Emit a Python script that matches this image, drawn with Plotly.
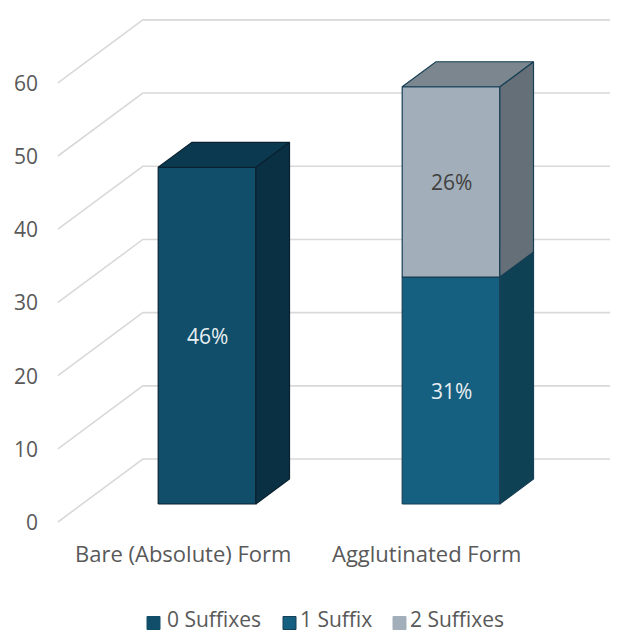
import plotly.graph_objects as go

# ---- data ----
categories = ["Bare (Absolute) Form", "Agglutinated Form"]
series_names = ["0 Suffixes", "1 Suffix", "2 Suffixes"]
suffix0 = [46, None]
suffix1 = [None, 31]
suffix2 = [None, 26]
labels0 = ["46%", None]
labels1 = [None, "31%"]
labels2 = [None, "26%"]
y_ticks = [0, 10, 20, 30, 40, 50, 60]

# ---- style ----
front_cols = ["#104e69", "#156080", "#a2afba"]
side_cols = ["#0a3043", "#0f4154", "#646f78"]
top_cols = ["#0b3a50", "#0e4a63", "#7b868f"]
edge_cols = ["#0a2230", "#173f55", "#173f55"]
label_cols = ["#e9eef2", "#e9eef2", "#404040"]
FONT = "Open Sans"
TXT = "#595959"
W, H = 622, 635

DX, DY = 0.348, 8.6          # full depth offset of back wall (x in category units, y in value units)
D_FRONT, D_BACK = 0.286, 0.683  # bar front/back depth fractions
HW = 0.20                     # half bar width
X_LEFT, X_RIGHT = -0.611, 1.304  # floor extent at the front plane

# legend layout (pixels): key square left edges and text start
LEG_KEY_X = [147, 283, 393]
LEG_TEXT_X = [165, 298, 408]
LEG_KEY_Y = 623
LEG_KEY = 13

series = [suffix0, suffix1, suffix2]
series_labels = [labels0, labels1, labels2]

fig = go.Figure()

# gridlines (left wall diagonal + back wall horizontal)
for v in y_ticks:
    fig.add_trace(go.Scatter(
        x=[X_LEFT, X_LEFT + DX, X_RIGHT + DX],
        y=[v, v + DY, v + DY],
        mode="lines", line=dict(color="#d9d9d9", width=1.6),
        hoverinfo="skip", showlegend=False))

fx, fy = D_FRONT * DX, D_FRONT * DY
bx, by = (D_BACK - D_FRONT) * DX, (D_BACK - D_FRONT) * DY


def poly(xs, ys, fill, edge, name):
    fig.add_trace(go.Scatter(
        x=xs + [xs[0]], y=ys + [ys[0]], mode="lines", fill="toself",
        fillcolor=fill, line=dict(color=edge, width=1.2), name=name,
        hoverinfo="skip", showlegend=False))


for ci in range(len(categories)):
    base = 0
    for si, s in enumerate(series):
        v = s[ci]
        if v is None:
            continue
        cx = ci  # front-face centre
        x0, x1 = cx - HW, cx + HW
        y0, y1 = base + fy, base + v + fy
        poly([x0, x1, x1, x0], [y0, y0, y1, y1], front_cols[si], edge_cols[si], series_names[si])
        poly([x1, x1 + bx, x1 + bx, x1], [y0, y0 + by, y1 + by, y1], side_cols[si], edge_cols[si], series_names[si])
        poly([x0, x1, x1 + bx, x0 + bx], [y1, y1, y1 + by, y1 + by], top_cols[si], edge_cols[si], series_names[si])
        lab = series_labels[si][ci]
        if lab:
            fig.add_annotation(x=cx, y=(y0 + y1) / 2, text=lab, showarrow=False,
                               font=dict(family=FONT, size=21, color=label_cols[si]))
        base += v

# y tick labels
for v in y_ticks:
    fig.add_annotation(x=X_LEFT - 0.075, y=v, text=str(v), showarrow=False, xanchor="right",
                       font=dict(family=FONT, size=21, color=TXT))

# category labels
for ci, c in enumerate(categories):
    fig.add_annotation(x=ci - fx, y=-4.25, text=c, showarrow=False,
                       font=dict(family=FONT, size=22, color=TXT))

# legend (keys + text)
for si, name in enumerate(series_names):
    kx = LEG_KEY_X[si]
    fig.add_shape(type="rect", xref="paper", yref="paper",
                  x0=kx / W, x1=(kx + LEG_KEY) / W,
                  y0=1 - (LEG_KEY_Y + LEG_KEY / 2) / H, y1=1 - (LEG_KEY_Y - LEG_KEY / 2) / H,
                  fillcolor=front_cols[si],
                  line=dict(color=edge_cols[si] if si == 1 else front_cols[si], width=1))
    fig.add_annotation(xref="paper", yref="paper", x=LEG_TEXT_X[si] / W, y=0,
                       text=name, showarrow=False, xanchor="left", yanchor="bottom",
                       font=dict(family=FONT, size=21, color=TXT))

fig.update_layout(
    width=W, height=H, autosize=False,
    margin=dict(l=0, r=0, t=0, b=0),
    paper_bgcolor="white", plot_bgcolor="white",
    xaxis=dict(range=[-207 / 244, (W - 207) / 244], visible=False, fixedrange=True),
    yaxis=dict(range=[(522 - H) / 7.32, 522 / 7.32], visible=False, fixedrange=True),
    showlegend=False,
)

fig.write_html("out.html")
